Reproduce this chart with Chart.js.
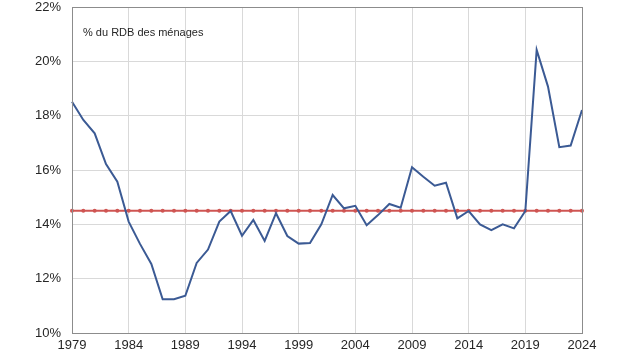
<!DOCTYPE html>
<html>
<head>
<meta charset="utf-8">
<script src="https://cdn.jsdelivr.net/npm/chart.js@4/dist/chart.umd.min.js"></script>
<style>
html,body{margin:0;padding:0;background:#fff;}
#wrap{width:636px;height:358px;position:relative;}
</style>
</head>
<body>
<div id="wrap"><canvas id="c" width="636" height="358"></canvas></div>
<script>
const years = [];
for (let y = 1979; y <= 2024; y++) years.push(y);
const tauxEpargne = [18.51, 17.84, 17.35, 16.22, 15.57, 14.10, 13.28, 12.54, 11.24, 11.24,
  11.37, 12.58, 13.07, 14.10, 14.49, 13.58, 14.16, 13.39, 14.41, 13.57,
  13.29, 13.31, 14.00, 15.08, 14.59, 14.68, 13.97, 14.34, 14.75, 14.61,
  16.10, 15.75, 15.42, 15.53, 14.22, 14.49, 14.00, 13.79, 14.00, 13.85,
  14.49, 20.42, 19.07, 16.84, 16.90, 18.21];
const moyenne = years.map(() => 14.5);
const yTicks = [10, 12, 14, 16, 18, 20, 22];
const xTicks = [1979, 1984, 1989, 1994, 1999, 2004, 2009, 2014, 2019, 2024];
const annotation = '% du RDB des ménages';

const FONT = '"Liberation Sans", Arial, sans-serif';

const framePlugin = {
  id: 'frame',
  afterDraw(chart) {
    const a = chart.chartArea, ctx = chart.ctx;
    ctx.save();
    ctx.strokeStyle = '#8c8c8c';
    ctx.lineWidth = 1;
    ctx.strokeRect(Math.round(a.left) + 0.5, Math.round(a.top) + 0.5, Math.round(a.right - a.left), Math.round(a.bottom - a.top));
    ctx.fillStyle = '#262626';
    ctx.font = '11px ' + FONT;
    ctx.textBaseline = 'middle';
    ctx.fillText(annotation, 83, 33);
    ctx.restore();
  }
};

new Chart(document.getElementById('c'), {
  type: 'line',
  data: {
    datasets: [
      {
        label: 'Moyenne',
        data: years.map((y, i) => ({x: y, y: moyenne[i]})),
        borderColor: '#cf5552',
        backgroundColor: '#cf5552',
        borderWidth: 2.2,
        pointRadius: 2,
        pointHoverRadius: 2,
        pointBorderWidth: 0,
        order: 2
      },
      {
        label: 'Taux',
        data: years.map((y, i) => ({x: y, y: tauxEpargne[i]})),
        borderColor: '#3b5a94',
        backgroundColor: '#3b5a94',
        borderWidth: 2,
        pointRadius: 0,
        tension: 0,
        order: 1
      }
    ]
  },
  options: {
    responsive: false,
    animation: false,
    clip: false,
    layout: {padding: {left: 0, right: 54, top: 7, bottom: 0}},
    plugins: {legend: {display: false}, tooltip: {enabled: false}},
    scales: {
      x: {
        type: 'linear',
        min: 1979, max: 2024,
        afterBuildTicks(scale) { scale.ticks = xTicks.map(v => ({value: v})); },
        afterFit(scale) { scale.height = 25; scale.paddingLeft = 0; scale.paddingRight = 0; },
        ticks: {
          color: '#262626',
          font: {family: FONT, size: 13},
          padding: 5,
          maxRotation: 0,
          callback: v => String(v)
        },
        grid: {color: '#d9d9d9', lineWidth: 1, drawTicks: false},
        border: {display: false}
      },
      y: {
        min: 10, max: 22,
        afterBuildTicks(scale) { scale.ticks = yTicks.map(v => ({value: v})); },
        afterFit(scale) { scale.width = 72; scale.paddingTop = 0; scale.paddingBottom = 0; },
        ticks: {
          color: '#262626',
          font: {family: FONT, size: 13},
          padding: 11,
          callback: v => v + '%'
        },
        grid: {color: '#d9d9d9', lineWidth: 1, drawTicks: false},
        border: {display: false}
      }
    }
  },
  plugins: [framePlugin]
});
</script>
</body>
</html>
